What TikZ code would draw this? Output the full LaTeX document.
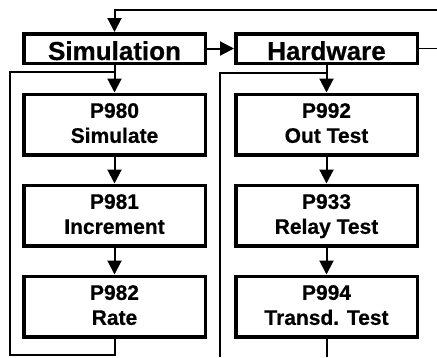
\documentclass[tikz,border=0pt]{standalone}
\usepackage{fontspec}
\setmainfont{Liberation Sans}[BoldFeatures={FakeBold=0.6}]
\usetikzlibrary{arrows.meta}

\tikzset{
  headbox/.style={draw, line width=3.5pt, inner sep=0pt,
    minimum width=181.5pt, minimum height=29.5pt,
    text height=23pt, text depth=0pt,
    font=\fontsize{26}{26}\selectfont\bfseries},
  stepbox/.style={draw, line width=3.5pt, inner sep=0pt, align=center,
    minimum width=181.5pt, minimum height=60.5pt, text depth=3pt,
    font=\fontsize{21}{25}\selectfont\bfseries},
  link/.style={line width=2pt, -{Triangle[length=14pt,width=14pt]}},
  wire/.style={line width=2pt}
}

\begin{document}
\begin{tikzpicture}[x=1pt,y=-1pt]
  \useasboundingbox (0,0) rectangle (437,357);

  % Define headings
  \node[headbox] (sim) at (114.5,48.5) {Simulation};
  \node[headbox] (hw) at (326.5,48.5) {Hardware};

  % Define steps
  \node[stepbox] (p980) at (114.5,124.5) {P980\\Simulate};
  \node[stepbox] (p981) at (114.5,215.5) {P981\\Increment};
  \node[stepbox] (p982) at (114.5,306.5) {P982\\Rate};
  \node[stepbox] (p992) at (326.5,124.5) {P992\\Out Test};
  \node[stepbox] (p933) at (326.5,215.5) {P933\\Relay Test};
  \node[stepbox] (p994) at (326.5,306.5) {P994\\Transd. Test};

  % Define loose ends
  \coordinate (back) at (437,10);
  \coordinate (hwout) at (437,48.5);
  \coordinate (simjoin) at (114.5,72);
  \coordinate (simcorner) at (9.5,355);
  \coordinate (hwjoin) at (326.5,73);
  \coordinate (hwside) at (219.5,357);
  \coordinate (hwend) at (326.5,357);

  % Draw flow
  \draw[link] (back) -| (sim.north);
  \draw[link] (sim) -- (hw);
  \draw[line width=1.5pt] (hw.east) -- (hwout);
  \draw[link] (sim) -- (p980);
  \draw[link] (p980) -- (p981);
  \draw[link] (p981) -- (p982);
  \draw[link] (hw) -- (p992);
  \draw[link] (p992) -- (p933);
  \draw[link] (p933) -- (p994);

  % Draw loops
  \draw[wire] (p982.south) |- (simcorner) |- (simjoin);
  \draw[wire] (p994.south) -- (hwend);
  \draw[wire] (hwside) |- (hwjoin);
\end{tikzpicture}
\end{document}
